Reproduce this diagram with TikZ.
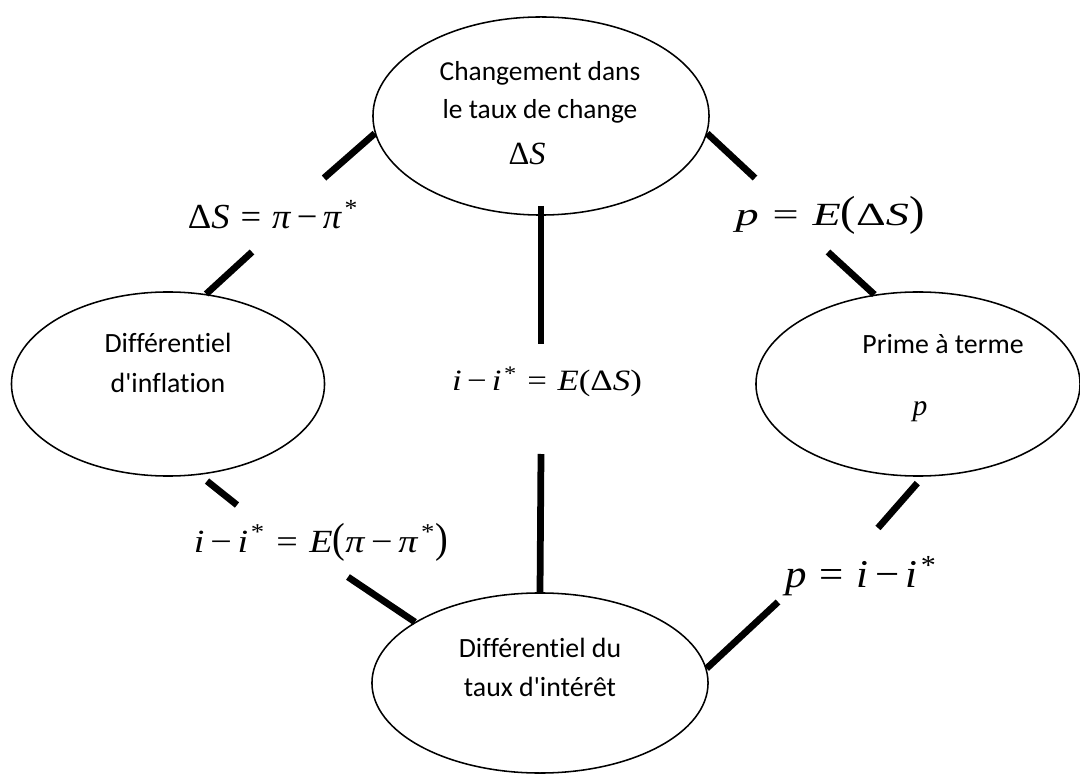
\documentclass[tikz,border=0pt]{standalone}
\usepackage{fontspec}
\usepackage{graphicx}
\usetikzlibrary{shapes.geometric}
\newfontfamily\calfont[Ligatures=NoCommon]{Carlito}
\newfontfamily\tnrfont{Liberation Serif}
\newcommand{\mrel}[1]{\hspace{0.3em}#1\hspace{0.3em}}
\newcommand{\mbin}[1]{\hspace{0.15em}#1\hspace{0.15em}}
\newcommand{\mst}{\textsuperscript{\hspace{0.1em}*}}
\newcommand{\bigpl}{\scalebox{1}[1.3]{(}}
\newcommand{\bigpr}{\scalebox{1}[1.3]{)}}
\begin{document}
\begin{tikzpicture}[x=0.025cm, y=-0.025cm,
  oval/.style={ellipse, draw, line width=1.1pt, inner sep=0pt},
  conn/.style={line width=4.8pt},
  boxtext/.style={inner sep=0pt, anchor=base, font=\calfont\fontsize{19.8pt}{28pt}\selectfont},
  eqtext/.style={inner sep=0pt, anchor=base, font=\tnrfont\fontsize{24pt}{28pt}\selectfont},
  eqsmall/.style={inner sep=0pt, anchor=base, font=\tnrfont\fontsize{21pt}{25pt}\selectfont}
]
\useasboundingbox (0,0) rectangle (1080,774);
\fill[white] (0,0) rectangle (1080,774);

% ellipses
\node[oval, minimum width=8.4cm, minimum height=4.95cm] (top) at (541,116) {};
\node[oval, minimum width=7.825cm, minimum height=4.6cm] (infl) at (168,384) {};
\node[oval, minimum width=8.1cm, minimum height=4.6cm] (prime) at (918,384) {};
\node[oval, minimum width=8.4cm, minimum height=4.5cm] (taux) at (540,683) {};

% texts inside ellipses
\node[boxtext] (topT) at (540,81) {\fontsize{19.5pt}{27pt}\selectfont\begin{tabular}[t]{@{}c@{}}Changement dans\\le taux de change\end{tabular}};
\node[eqsmall, font=\tnrfont\fontsize{23pt}{26pt}\selectfont] (topS) at (527,165) {Δ\textit{S}};
\node[boxtext] (inflT) at (168,353) {\begin{tabular}[t]{@{}c@{}}Différentiel\\d'inflation\end{tabular}};
\node[boxtext] (primeT) at (943,354) {Prime à terme};
\node[eqsmall] (primeP) at (920,415) {\textit{p}};
\node[boxtext] (tauxT) at (540,657) {\begin{tabular}[t]{@{}c@{}}Différentiel du\\taux d'intérêt\end{tabular}};

% gap coordinates
\coordinate (g1a) at (324,178);
\coordinate (g1b) at (252,252);
\coordinate (g2a) at (755,178);
\coordinate (g2b) at (828,252);
\coordinate (g3a) at (237,505);
\coordinate (g3b) at (348,577);
\coordinate (g4a) at (878,528);
\coordinate (g4b) at (778,602);
\coordinate (g5a) at (541,344);
\coordinate (g5b) at (541,454);

% connectors
\draw[conn] (top.186) -- (g1a);
\draw[conn] (g1b) -- (infl.67);
\draw[conn] (top.354) -- (g2a);
\draw[conn] (g2b) -- (prime.116);
\draw[conn, shorten <=7pt] (infl.289) -- (g3a);
\draw[conn] (g3b) -- (taux.154);
\draw[conn, shorten <=6pt] (prime.273) -- (g4a);
\draw[conn] (g4b) -- (taux.5);
\draw[conn, shorten <=-7pt] (top.south) -- (g5a);
\draw[conn] (g5b) -- (taux.north);

% labels
\node[eqtext, font=\tnrfont\fontsize{25pt}{28pt}\selectfont] (l1) at (273,229) {\scalebox{1.04}[1]{Δ\textit{S}\mrel{=}\textit{π}\mbin{−}\textit{π}\mst}};
\node[eqtext, font=\tnrfont\fontsize{23pt}{28pt}\selectfont] (l2) at (830,226) {\scalebox{1.43}[1]{\textit{p}\mrel{=}\textit{E}\bigpl Δ\textit{S}\bigpr}};
\node[eqtext, font=\tnrfont\fontsize{23pt}{28pt}\selectfont] (l3) at (321,552) {\scalebox{1.18}[1]{\textit{i}\mbin{−}\textit{i}\mst\mrel{=}\textit{E}\bigpl\textit{π}\mbin{−}\textit{π}\mst\bigpr}};
\node[eqtext, font=\tnrfont\fontsize{28pt}{32pt}\selectfont] (l4) at (861,587) {\scalebox{1.09}[1]{\textit{p}\mrel{=}\textit{i}\mbin{−}\textit{i}\mst}};
\node[eqsmall] (l5) at (547,391) {\scalebox{1.18}[1]{\textit{i}\mbin{−}\textit{i}\mst\mrel{=}\textit{E}(Δ\textit{S})}};
\end{tikzpicture}
\end{document}
